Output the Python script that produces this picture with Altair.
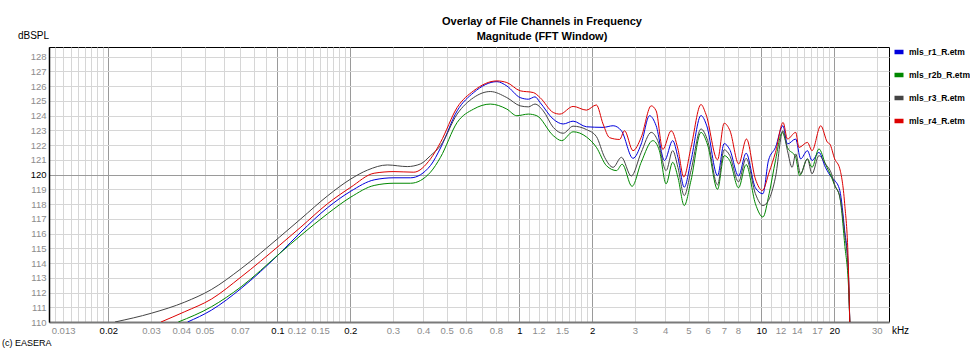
import altair as alt
import pandas as pd

# Channel names and their line colours
SERIES = ["mls_r1_R.etm", "mls_r2b_R.etm", "mls_r3_R.etm", "mls_r4_R.etm"]
COLORS = ["#0000dd", "#008800", "#444444", "#dd0000"]

# Magnitude responses: frequency in kHz, level in dBSPL
r1_freq = [0.0425, 0.0533, 0.0708, 0.102, 0.125, 0.161, 0.201, 0.251, 0.303, 0.355, 0.429,
           0.472, 0.553, 0.647, 0.807, 0.887, 1.007, 1.089, 1.16, 1.217, 1.38, 1.517, 1.667,
           1.893, 2.217, 2.44, 2.64, 2.948, 3.187, 3.45, 3.674, 3.98, 4.3, 4.52, 4.8, 5.12,
           5.63, 5.95, 6.59, 7.02, 7.4, 8.05, 8.65, 9.45, 10.15, 10.7, 11.44, 12.28, 12.82,
           13.87, 14.53, 15.5, 16.2, 17.3, 18.4, 19.5, 20.1, 21.1, 22.1, 22.85, 23.2]
r1_db = [110.0, 110.8, 112.28, 114.64, 116.1, 117.75, 118.87, 119.64, 119.78, 119.78, 120.61,
         121.8, 124.32, 125.56, 126.3, 126.01, 125.22, 125.11, 125.27, 124.89, 123.76, 123.43, 123.62,
         123.24, 123.2, 123.31, 122.97, 121.1, 122.07, 123.99, 123.31, 120.95, 122.3, 121.17, 119.14, 120.95,
         124.0, 123.3, 119.93, 122.1, 121.7, 119.9, 121.45, 119.1, 118.7, 120.95, 121.84, 123.31, 122.07,
         122.41, 121.06, 121.62, 120.95, 121.5, 120.49, 119.82, 119.6, 118.92, 116.2, 113.74, 110.0]

r2b_freq = [0.0389, 0.0533, 0.0708, 0.102, 0.125, 0.161, 0.201, 0.251, 0.303, 0.355, 0.429,
            0.472, 0.553, 0.647, 0.758, 0.887, 0.976, 1.089, 1.18, 1.38, 1.495, 1.667, 1.893,
            2.08, 2.29, 2.52, 2.66, 2.92, 3.187, 3.56, 3.79, 4.04, 4.3, 4.52, 4.8, 5.12, 5.63,
            6.0, 6.59, 7.02, 7.4, 8.05, 8.65, 9.45, 10.15, 10.77, 11.44, 12.2, 12.82, 13.87,
            14.4, 15.5, 16.2, 17.3, 18.4, 19.5, 20.1, 21.1, 22.1, 23.0, 23.2]
r2b_db = [110.0, 111.03, 112.39, 114.64, 115.88, 117.34, 118.47, 119.26, 119.41, 119.41, 120.16,
          121.17, 123.53, 124.44, 124.78, 124.44, 123.99, 124.1, 123.99, 122.64, 122.3, 122.9, 122.55,
          121.85, 120.6, 120.27, 120.7, 119.2, 120.83, 122.3, 121.62, 119.37, 120.83, 119.82, 117.9, 119.6, 122.86,
          122.0, 119.0, 121.28, 120.95, 119.1, 120.68, 118.02, 117.12, 118.7, 120.95, 122.86, 121.84, 121.17,
          119.93, 121.06, 120.49, 121.74, 120.72, 119.82, 119.26, 118.47, 115.3, 111.9, 110.0]

r3_freq = [0.0213, 0.0302, 0.0414, 0.0533, 0.0708, 0.102, 0.125, 0.161, 0.201, 0.2355,
           0.2846, 0.344, 0.39, 0.429, 0.472, 0.553, 0.647, 0.758, 0.887, 1.007, 1.089, 1.16,
           1.255, 1.38, 1.517, 1.667, 1.893, 2.08, 2.25, 2.44, 2.64, 2.9, 3.187, 3.506, 3.73,
           4.04, 4.3, 4.52, 4.8, 5.12, 5.63, 6.0, 6.59, 7.02, 7.4, 8.05, 8.65, 9.45, 10.15,
           10.7, 11.44, 12.28, 12.82, 13.4, 13.87, 14.53, 15.5, 16.2, 17.3, 18.4, 19.5, 20.1,
           21.1, 22.1, 22.85, 23.2]
r3_db = [110.0, 110.6, 111.35, 112.2, 113.62, 115.76, 117.0, 118.55, 119.7, 120.3,
         120.65, 120.54, 120.72, 121.28, 121.96, 124.1, 125.22, 125.63, 125.22, 124.66, 124.59, 124.78,
         124.32, 123.2, 122.8, 123.28, 123.05, 122.58, 121.17, 120.49, 121.17, 119.9, 121.5, 122.86, 122.3,
         120.27, 121.62, 120.49, 118.58, 120.27, 123.09, 122.3, 119.3, 121.68, 121.3, 119.5, 121.1, 118.7, 117.9,
         118.24, 119.82, 122.97, 121.62, 120.49, 121.4, 120.05, 121.06, 120.05, 121.28, 120.72, 120.05, 119.3,
         118.5, 116.0, 113.5, 110.0]

r4_freq = [0.033, 0.0414, 0.0533, 0.0708, 0.102, 0.125, 0.161, 0.201, 0.251, 0.303, 0.366,
           0.429, 0.472, 0.553, 0.647, 0.807, 0.887, 1.007, 1.142, 1.217, 1.38, 1.47, 1.667,
           1.893, 2.08, 2.217, 2.36, 2.595, 2.72, 2.948, 3.187, 3.506, 3.674, 3.915, 4.24, 4.52,
           4.78, 5.12, 5.63, 5.9, 6.59, 7.02, 7.42, 8.06, 8.68, 9.45, 10.1, 10.77, 11.44, 12.3,
           12.82, 13.87, 14.3, 15.5, 16.2, 17.6, 18.77, 19.19, 20.1, 21.1, 22.1, 22.85, 23.2]
r4_db = [110.0, 110.7, 111.55, 113.06, 115.2, 116.44, 118.02, 119.14, 120.09, 120.2, 120.16,
         121.06, 122.18, 124.55, 125.68, 126.35, 126.24, 125.68, 125.56, 125.22, 124.21, 124.1, 124.62,
         124.37, 124.72, 123.43, 122.5, 122.38, 122.97, 121.62, 122.52, 124.66, 124.32, 121.7, 122.97, 121.74,
         119.84, 121.84, 124.75, 124.1, 121.0, 123.48, 122.97, 120.72, 122.41, 119.7, 118.92, 120.16, 121.5, 123.53,
         122.41, 122.86, 121.84, 122.18, 121.62, 123.31, 122.18, 122.07, 121.06, 120.39, 118.02, 114.19, 110.0]

# Axis ticks
X_LABELS = [0.013, 0.02, 0.03, 0.04, 0.05, 0.07, 0.1, 0.12, 0.15, 0.2, 0.3, 0.4, 0.5, 0.6, 0.8,
            1, 1.2, 1.5, 2, 3, 4, 5, 6, 7, 8, 10, 12, 14, 17, 20, 30]
X_MAJOR = [0.02, 0.1, 0.2, 1, 2, 10, 20]
Y_TICKS = list(range(110, 129))
Y_MAJOR = [120]

X_DOMAIN = [0.01137, 33.7]
Y_DOMAIN = [110, 128.65]

TITLE_1 = "Overlay of File Channels in Frequency"
TITLE_2 = "Magnitude (FFT Window)"
FOOTER = "(c) EASERA"

W, H = 840, 275
FONT = "Liberation Sans"

# Log grid: fine steps between 1x and 2x of every decade, whole steps up to 10x
steps = [1.1, 1.2, 1.3, 1.4, 1.5, 1.6, 1.7, 1.8, 1.9, 2, 3, 4, 5, 6, 7, 8, 9, 10]
x_grid = sorted({round(d * m, 6) for d in [0.01, 0.1, 1, 10] for m in steps})
x_grid = [v for v in x_grid if X_DOMAIN[0] <= v <= X_DOMAIN[1]]

frames = []
for name, fr, db in [(SERIES[0], r1_freq, r1_db), (SERIES[1], r2b_freq, r2b_db),
                     (SERIES[2], r3_freq, r3_db), (SERIES[3], r4_freq, r4_db)]:
    frames.append(pd.DataFrame({"f": fr, "db": db, "series": name}))
df = pd.concat(frames, ignore_index=True)


def js_list(vals):
    return "[" + ",".join(repr(v) for v in vals) + "]"


x_major_test = f"indexof({js_list(X_MAJOR)}, datum.value) >= 0"
x_label_test = f"indexof({js_list(X_LABELS)}, datum.value) >= 0"
y_major_test = f"indexof({js_list(Y_MAJOR)}, datum.value) >= 0"

x_axis = alt.Axis(
    values=x_grid,
    labelExpr=f"{x_label_test} ? '' + datum.value : ''",
    labelOverlap=False,
    labelFlush=False,
    labelFont=FONT,
    labelFontSize=9.5,
    labelPadding=3,
    labelColor={"condition": {"test": x_major_test, "value": "#000000"}, "value": "#8c8c8c"},
    grid=True,
    gridColor={"condition": {"test": x_major_test, "value": "#9a9a9a"}, "value": "#d6d6d6"},
    gridWidth=1,
    ticks=False,
    domainColor="#7a7a7a",
    domainWidth=2,
    title="kHz",
    titleFont=FONT,
    titleFontSize=10,
    titleFontWeight="normal",
    titleColor="#000000",
    titleX=851,
    titleY=8,
    titleAlign="center",
    titleBaseline="middle",
)

y_axis = alt.Axis(
    values=Y_TICKS,
    labelFont=FONT,
    labelFontSize=9.5,
    labelPadding=3,
    labelColor={"condition": {"test": y_major_test, "value": "#000000"}, "value": "#8c8c8c"},
    grid=True,
    gridColor={"condition": {"test": y_major_test, "value": "#9a9a9a"}, "value": "#d6d6d6"},
    gridWidth=1,
    ticks=False,
    domainColor="#000000",
    domainWidth=1.5,
    title="dBSPL",
    titleFont=FONT,
    titleFontSize=10,
    titleFontWeight="normal",
    titleColor="#000000",
    titleAngle=0,
    titleX=-16,
    titleY=-12,
    titleAlign="center",
    titleBaseline="middle",
)

legend = alt.Legend(
    title=None,
    orient="none",
    legendX=843,
    legendY=-2,
    symbolType="M-1,0H1",
    symbolSize=81,
    symbolStrokeWidth=4.5,
    labelFont=FONT,
    labelFontSize=8.5,
    labelFontWeight="bold",
    labelColor="#000000",
    labelLimit=300,
    labelOffset=3,
    rowPadding=5,
    padding=0,
)

lines = alt.Chart(df).mark_line(interpolate="monotone", clip=True, strokeWidth=1).encode(
    x=alt.X("f:Q", scale=alt.Scale(type="log", domain=X_DOMAIN, nice=False), axis=x_axis),
    y=alt.Y("db:Q", scale=alt.Scale(domain=Y_DOMAIN, nice=False, zero=False), axis=y_axis),
    color=alt.Color("series:N", scale=alt.Scale(domain=SERIES, range=COLORS), legend=legend),
)


def text_layer(txt, x, y, **kw):
    return alt.Chart(pd.DataFrame({"t": [txt]})).mark_text(font=FONT, **kw).encode(
        text="t:N", x=alt.value(x), y=alt.value(y)
    )


title1 = text_layer(TITLE_1, 493, -25, fontSize=11, fontWeight="bold", align="center", baseline="middle")
title2 = text_layer(TITLE_2, 493, -10, fontSize=11, fontWeight="bold", align="center", baseline="middle")
footer = text_layer(FOOTER, -47, 296, fontSize=9, align="left", baseline="middle", color="#000000")

chart = alt.layer(lines, title1, title2, footer).properties(
    width=W,
    height=H,
    autosize="none",
    padding={"left": 49, "top": 47, "right": 81, "bottom": 27},
    background="#ffffff",
).configure_view(stroke="#000000", strokeWidth=1)

chart.save("out.html", embed_options={"renderer": "svg", "actions": False})
